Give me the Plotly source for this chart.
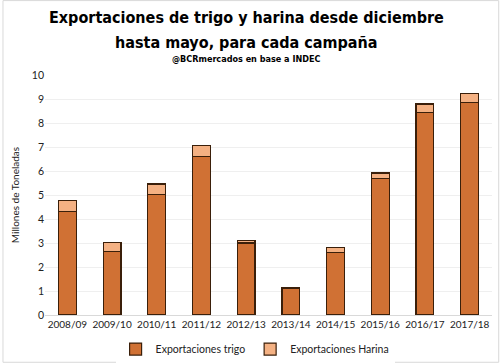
import plotly.graph_objects as go

campanas = ["2008/09", "2009/10", "2010/11", "2011/12", "2012/13",
            "2013/14", "2014/15", "2015/16", "2016/17", "2017/18"]
trigo = [4.32, 2.66, 5.02, 6.60, 3.00, 1.10, 2.59, 5.70, 8.43, 8.86]
harina = [0.45, 0.37, 0.44, 0.46, 0.11, 0.04, 0.21, 0.22, 0.36, 0.36]
y_ticks = [0, 1, 2, 3, 4, 5, 6, 7, 8, 9, 10]

TITLE_FONT = "DejaVu Sans Condensed, Roboto, sans-serif"
BODY_FONT = "Lato, Open Sans, sans-serif"

fig = go.Figure()
fig.add_trace(go.Bar(x=campanas, y=trigo, name="Exportaciones trigo",
                     marker=dict(color="#D07134", line=dict(color="#3a1f0a", width=1.2))))
fig.add_trace(go.Bar(x=campanas, y=harina, name="Exportaciones Harina",
                     marker=dict(color="#F4B183", line=dict(color="#3a1f0a", width=1.2))))

fig.update_layout(
    barmode="stack",
    bargap=0.6,
    width=500, height=363,
    paper_bgcolor="white", plot_bgcolor="white",
    margin=dict(l=45, r=8, t=75, b=48, autoexpand=False),
    font=dict(family=BODY_FONT, size=10, color="#222"),
    showlegend=True,
    legend=dict(orientation="h", x=0.47, xanchor="center", y=-0.142, yanchor="middle",
                font=dict(size=10.5, color="#222"), traceorder="normal"),
    xaxis=dict(tickfont=dict(size=10), showline=True, linecolor="#d9d9d9",
               ticks="", tickangle=0, automargin=False),
    yaxis=dict(range=[0, 10], tickvals=y_ticks, gridcolor="#efefef",
               tickfont=dict(size=10.5), zeroline=False, ticks="", automargin=False,
               title=dict(text="Millones de Toneladas", font=dict(size=10), standoff=10)),
    shapes=[dict(type="rect", xref="paper", yref="paper", x0=-0.094, x1=1.015,
                 y0=-0.197, y1=1.31, line=dict(color="#d9d9d9", width=1))],
    annotations=[
        dict(text="<b>Exportaciones de trigo y harina desde diciembre</b>",
             xref="paper", yref="paper", x=0.45, y=1.2375, xanchor="center", yanchor="middle",
             showarrow=False, font=dict(family=TITLE_FONT, size=16, color="black")),
        dict(text="<b>hasta mayo, para cada campaña</b>",
             xref="paper", yref="paper", x=0.45, y=1.1375, xanchor="center", yanchor="middle",
             showarrow=False, font=dict(family=TITLE_FONT, size=16, color="black")),
        dict(text="<b>@BCRmercados en base a INDEC</b>",
             xref="paper", yref="paper", x=0.45, y=1.0646, xanchor="center", yanchor="middle",
             showarrow=False, font=dict(family=TITLE_FONT, size=9, color="black")),
    ],
)

fig.write_html("out.html", config={"displayModeBar": False},
               post_script="document.body.style.margin='0';")
